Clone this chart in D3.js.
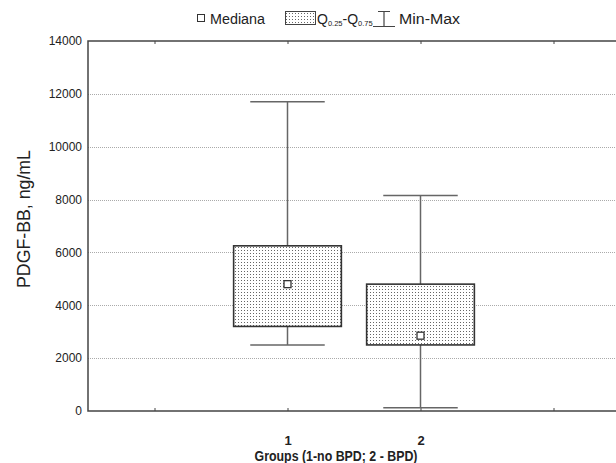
<!DOCTYPE html>
<html><head><meta charset="utf-8">
<script src="https://cdn.jsdelivr.net/npm/d3@7"></script>
<style>body{margin:0;background:#fff}svg{display:block}text{font-family:"Liberation Sans",Arial,sans-serif}</style>
</head><body>
<svg id="c" width="616" height="463"></svg>
<script>
const groups = ["1", "2"];
const groupPos = [1, 2];
const minVals = [2500, 120];
const q1Vals = [3200, 2500];
const medianVals = [4800, 2850];
const q3Vals = [6250, 4800];
const maxVals = [11700, 8150];
const yTicks = [0, 2000, 4000, 6000, 8000, 10000, 12000, 14000];
const xTickPos = [0, 1, 2, 3];
const xTickLabels = ["", "1", "2", ""];

const svg = d3.select("#c");
const x = d3.scaleLinear().domain([-0.5, 3.5]).range([88, 620]);
const y = d3.scaleLinear().domain([0, 14000]).range([411, 41]);
const step = x(1) - x(0);

const defs = svg.append("defs");
const pat = defs.append("pattern").attr("id", "dots").attr("patternUnits", "userSpaceOnUse")
  .attr("width", 3).attr("height", 3);
pat.append("rect").attr("width", 3).attr("height", 3).attr("fill", "#fff");
pat.append("rect").attr("x", 1).attr("y", 1).attr("width", 1).attr("height", 1).attr("fill", "#666");

// gridlines
svg.append("g").selectAll("line").data(yTicks.filter(d => d > 0 && d < 14000)).join("line")
  .attr("x1", x(-0.5)).attr("x2", 616).attr("y1", d => Math.round(y(d)) + 0.5).attr("y2", d => Math.round(y(d)) + 0.5)
  .attr("stroke", "#aaa").attr("stroke-width", 1).attr("stroke-dasharray", "1,1");

// Y axis
const yAxis = svg.append("g").attr("transform", `translate(${x(-0.5)},0)`)
  .call(d3.axisLeft(y).tickValues(yTicks).tickSize(0).tickPadding(6).tickFormat(d3.format("d")));
yAxis.select(".domain").remove();
yAxis.selectAll("text").attr("font-size", 12).attr("fill", "#222").style("font-family", "Liberation Sans, Arial");

// X axis (bottom), ticks inward
const xAxis = svg.append("g").attr("transform", `translate(0,${y(0)})`)
  .call(d3.axisBottom(x).tickValues(xTickPos).tickSizeInner(-3).tickSizeOuter(0).tickPadding(25).tickFormat((d, i) => xTickLabels[i]));
xAxis.select(".domain").remove();
xAxis.selectAll("line").attr("stroke", "#444");
xAxis.selectAll("text").attr("font-size", 13).attr("font-weight", "bold").attr("fill", "#222").style("font-family", "Liberation Sans, Arial");

// top ticks inward
const xTop = svg.append("g").attr("transform", `translate(0,${y(14000)})`)
  .call(d3.axisTop(x).tickValues(xTickPos).tickSizeInner(-3).tickSizeOuter(0).tickFormat(""));
xTop.select(".domain").remove();
xTop.selectAll("line").attr("stroke", "#444");

// frame
svg.append("path").attr("d", `M616,${y(14000)}H${x(-0.5)}V${y(0)}H616`)
  .attr("fill", "none").attr("stroke", "#444").attr("stroke-width", 1.5);

// boxes
const data = groups.map((g, i) => ({g, p: groupPos[i], min: minVals[i], q1: q1Vals[i], med: medianVals[i], q3: q3Vals[i], max: maxVals[i]}));
const bw = step * 0.81, cw = step * 0.56;
const gB = svg.append("g").selectAll("g").data(data).join("g");
gB.append("line").attr("x1", d => x(d.p)).attr("x2", d => x(d.p)).attr("y1", d => y(d.max)).attr("y2", d => y(d.min))
  .attr("stroke", "#666").attr("stroke-width", 1.5);
gB.append("line").attr("x1", d => x(d.p) - cw / 2).attr("x2", d => x(d.p) + cw / 2).attr("y1", d => y(d.max)).attr("y2", d => y(d.max))
  .attr("stroke", "#666").attr("stroke-width", 1.5);
gB.append("line").attr("x1", d => x(d.p) - cw / 2).attr("x2", d => x(d.p) + cw / 2).attr("y1", d => y(d.min)).attr("y2", d => y(d.min))
  .attr("stroke", "#666").attr("stroke-width", 1.5);
gB.append("rect").attr("x", d => x(d.p) - bw / 2).attr("width", bw).attr("y", d => y(d.q3)).attr("height", d => y(d.q1) - y(d.q3))
  .attr("fill", "url(#dots)").attr("stroke", "#333").attr("stroke-width", 1.6);
gB.append("rect").attr("x", d => x(d.p) - 3.5).attr("y", d => y(d.med) - 3.5).attr("width", 7).attr("height", 7)
  .attr("fill", "#fff").attr("stroke", "#333").attr("stroke-width", 1.3);

// axis titles
svg.append("text").attr("transform", `translate(30,219) rotate(-90)`).attr("text-anchor", "middle")
  .attr("font-size", 19).attr("fill", "#222").attr("textLength", 138).attr("lengthAdjust", "spacingAndGlyphs")
  .text("PDGF-BB, ng/mL");
svg.append("text").attr("x", 336).attr("y", 461).attr("text-anchor", "middle")
  .attr("font-size", 14).attr("font-weight", "bold").attr("fill", "#222").attr("textLength", 163).attr("lengthAdjust", "spacingAndGlyphs")
  .text("Groups (1-no BPD; 2 - BPD)");

// legend
const lg = svg.append("g");
lg.append("rect").attr("x", 197.5).attr("y", 14.5).attr("width", 7).attr("height", 7).attr("fill", "#fff").attr("stroke", "#333");
lg.append("text").attr("x", 210).attr("y", 24).attr("font-size", 15.5).attr("fill", "#222")
  .attr("textLength", 55).attr("lengthAdjust", "spacingAndGlyphs").text("Mediana");
lg.append("rect").attr("x", 285.5).attr("y", 11.5).attr("width", 30).attr("height", 13).attr("fill", "url(#dots)").attr("stroke", "#444");
const qt = lg.append("text").attr("x", 317).attr("y", 24).attr("font-size", 14).attr("fill", "#222");
qt.append("tspan").text("Q");
qt.append("tspan").attr("font-size", 7.5).attr("dy", 2).text("0.25");
qt.append("tspan").attr("dy", -2).text("-Q");
qt.append("tspan").attr("font-size", 7.5).attr("dy", 2).text("0.75");
lg.append("path").attr("d", "M373,26.5H395M384,26.5V11.5M378,11.5H390").attr("fill", "none").attr("stroke", "#444").attr("stroke-width", 1.2);
lg.append("text").attr("x", 399).attr("y", 24).attr("font-size", 15.5).attr("fill", "#222")
  .attr("textLength", 61).attr("lengthAdjust", "spacingAndGlyphs").text("Min-Max");
</script>
</body></html>
